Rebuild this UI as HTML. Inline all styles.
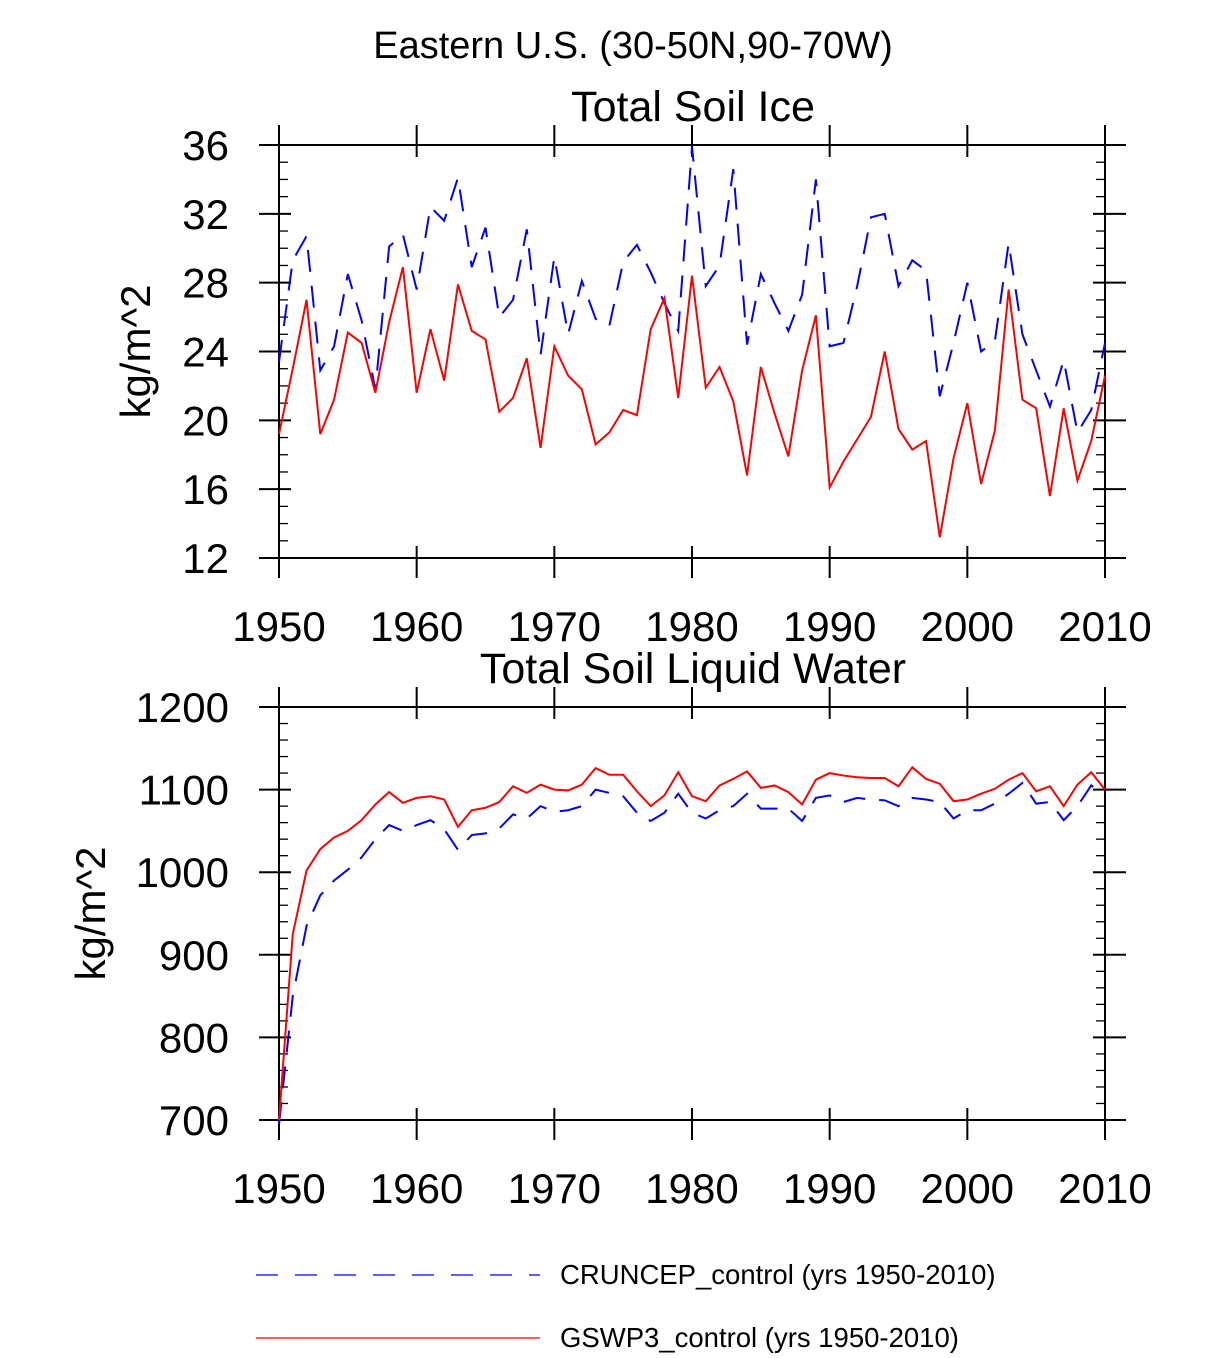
<!DOCTYPE html>
<html><head><meta charset="utf-8"><style>
body{margin:0;background:#fff;}
svg text{font-family:"Liberation Sans",sans-serif;fill:#000;}
</style></head><body>
<svg id="chart" width="1224" height="1353" xmlns="http://www.w3.org/2000/svg">
<text x="633" y="58" font-size="38" text-anchor="middle">Eastern U.S. (30-50N,90-70W)</text>
<g id="top"></g>
<g id="bot"></g>
<g>
<line x1="256" y1="1275" x2="540" y2="1275" stroke="#00f" stroke-width="1.3" stroke-dasharray="22,17"/>
<text x="560" y="1284" font-size="27.5">CRUNCEP_control (yrs 1950-2010)</text>
<line x1="256" y1="1338" x2="540" y2="1338" stroke="#f00" stroke-width="1.3"/>
<text x="560" y="1347" font-size="27.5">GSWP3_control (yrs 1950-2010)</text>
</g>
</svg>
<script>
const years=[];for(let y=1950;y<=2010;y++)years.push(y);
const iceRed=[19.2,23,27,19.2,21.2,25.1,24.5,21.6,25.7,28.9,21.6,25.3,22.3,27.9,25.2,24.7,20.5,21.3,23.6,18.4,24.3,22.6,21.8,18.6,19.3,20.6,20.3,25.3,27.1,21.3,28.4,21.9,23.1,21.1,16.8,23.1,20.4,17.9,22.9,26.1,16.1,17.6,18.9,20.2,24.0,19.5,18.3,18.8,13.2,17.8,21.0,16.3,19.4,27.6,21.2,20.7,15.6,20.7,16.5,18.8,22.6];
const iceBlue=[23.4,29.3,30.7,22.9,24.3,28.5,25.8,21.8,30.1,30.8,27.6,32.4,31.6,34.1,28.9,31.2,26.0,27.0,31.1,23.8,29.5,25.0,28.1,25.9,25.5,29.2,30.2,28.6,26.8,25.2,35.9,27.8,29.0,34.6,24.4,28.5,26.8,25.2,27.3,34.0,24.3,24.5,27.8,31.8,32.0,27.8,29.3,28.7,21.4,24.5,28.0,24.0,24.6,30.3,25.0,22.9,20.8,23.5,19.3,20.6,24.5];
const liqRed=[700,925,1002,1028,1042,1050,1063,1082,1097,1084,1090,1092,1088,1055,1075,1078,1085,1104,1096,1106,1100,1099,1106,1126,1118,1118,1098,1080,1093,1121,1092,1086,1105,1113,1122,1102,1105,1097,1082,1112,1120,1117,1115,1114,1114,1104,1127,1113,1107,1086,1088,1095,1101,1112,1120,1098,1104,1080,1106,1121,1100];
const liqBlue=[695,850,935,972,990,1003,1018,1040,1057,1050,1057,1063,1052,1027,1045,1047,1053,1070,1065,1080,1073,1075,1080,1100,1096,1092,1072,1062,1072,1095,1072,1065,1075,1080,1095,1077,1077,1077,1062,1090,1093,1085,1090,1088,1087,1080,1090,1088,1085,1065,1075,1075,1083,1095,1108,1083,1085,1063,1080,1105,1093];
const xTicks=[1950,1960,1970,1980,1990,2000,2010];
const iceTicks=[12,16,20,24,28,32,36];
const liqTicks=[700,800,900,1000,1100,1200];
const NS="http://www.w3.org/2000/svg";
function mk(p,t,a){const e=document.createElementNS(NS,t);for(const k in a)e.setAttribute(k,a[k]);p.appendChild(e);return e;}
function panel(g,o){
 const L=279,R=1105,T=o.top,B=o.top+413;
 const xs=v=>L+(v-1950)/60*(R-L);
 const ys=v=>B-(v-o.min)/(o.max-o.min)*(B-T);
 const fr=mk(g,'rect',{x:L,y:T,width:R-L,height:B-T,fill:'none',stroke:'#000','stroke-width':2});
 
 
 for(let v=o.min;v<=o.max+1e-9;v+=o.minor){const y=ys(v);
  mk(g,'line',{x1:L,x2:L+9,y1:y,y2:y,stroke:'#000','stroke-width':1.3});
  mk(g,'line',{x1:R,x2:R-9,y1:y,y2:y,stroke:'#000','stroke-width':1.3});}
 o.ticks.forEach(v=>{const y=ys(v);
  mk(g,'line',{x1:L-20,x2:L+12,y1:y,y2:y,stroke:'#000','stroke-width':2});
  mk(g,'line',{x1:R-12,x2:R+21,y1:y,y2:y,stroke:'#000','stroke-width':2});
  const t=mk(g,'text',{x:L-50,y:y+15,'font-size':42,'text-anchor':'end'});t.textContent=v;
  
  });
 xTicks.forEach(v=>{const x=xs(v);
  mk(g,'line',{x1:x,x2:x,y1:B+20,y2:B-12,stroke:'#000','stroke-width':2});
  mk(g,'line',{x1:x,x2:x,y1:T-20,y2:T+12,stroke:'#000','stroke-width':2});
  const t=mk(g,'text',{x:x,y:B+83,'font-size':42,'text-anchor':'middle'});t.textContent=v;
  
  });
 const ti=mk(g,'text',{x:693,y:T-24,'font-size':43,'text-anchor':'middle'});ti.textContent=o.title;
 
 
 const yl=mk(g,'text',{x:0,y:0,'font-size':42,'text-anchor':'middle',transform:`translate(${o.ylx},${(T+B)/2}) rotate(-90)`});yl.textContent='kg/m^2';
 
 
 const pb=o.blue.map((v,i)=>xs(years[i])+','+ys(v)).join(' ');
 const l1=mk(g,'polyline',{points:pb,fill:'none',stroke:'#00f','stroke-width':2,'stroke-dasharray':'22,14'});
 
 
 const pr=o.red.map((v,i)=>xs(years[i])+','+ys(v)).join(' ');
 const l2=mk(g,'polyline',{points:pr,fill:'none',stroke:'#f00','stroke-width':2});
 
 
}
panel(document.getElementById('top'),{top:145,min:12,max:36,minor:1,ticks:iceTicks,title:'Total Soil Ice',red:iceRed,blue:iceBlue,ylx:150});
panel(document.getElementById('bot'),{top:707,min:700,max:1200,minor:20,ticks:liqTicks,title:'Total Soil Liquid Water',red:liqRed,blue:liqBlue,ylx:105});
</script>
</body></html>
